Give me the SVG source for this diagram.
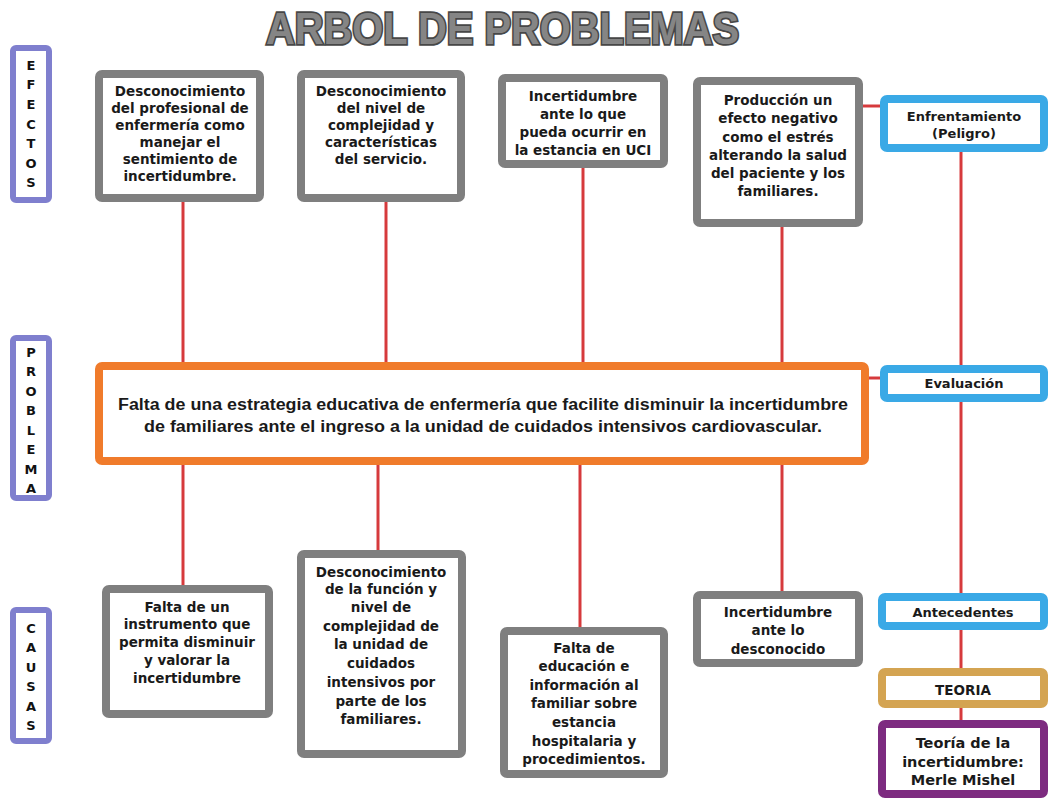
<svg xmlns="http://www.w3.org/2000/svg" width="1049" height="798" viewBox="0 0 1049 798">
<style>
.bg{fill:#ffffff}
.gray{fill:#ffffff;stroke:#7f7f7f;stroke-width:8}
.side{fill:#ffffff;stroke:#7f7fce;stroke-width:6}
.blue{fill:#ffffff;stroke:#3aa9e6;stroke-width:8}
.gold{fill:#ffffff;stroke:#d4a452;stroke-width:8}
.purple{fill:#ffffff;stroke:#7d2b80;stroke-width:8}
.orange{fill:#ffffff;stroke:#f07b2b;stroke-width:8}
.t{font-family:"DejaVu Sans",sans-serif;font-weight:bold;font-size:13.5px;fill:#1a1a1a;text-anchor:middle}
.s{font-family:"DejaVu Sans",sans-serif;font-weight:bold;font-size:13px;fill:#1a1a1a;text-anchor:middle}
.l{font-family:"DejaVu Sans",sans-serif;font-weight:bold;font-size:13px;fill:#111111;text-anchor:middle}
.p{font-family:"Liberation Sans",Arial,sans-serif;font-weight:bold;font-size:16px;fill:#1a1a1a;text-anchor:start}
.title{font-family:"Liberation Sans",Arial,sans-serif;font-weight:900;font-size:45px;fill:#858585;stroke:#474747;stroke-width:3.5;paint-order:stroke}
.c{stroke:#d63a3c;stroke-width:3;fill:none}
</style>
<rect class="bg" x="0" y="0" width="1049" height="798"/>
<text class="title" x="266" y="44" textLength="473" lengthAdjust="spacingAndGlyphs">ARBOL DE PROBLEMAS</text>

<g id="connectors">
<line class="c" x1="183" y1="200" x2="183" y2="363"/>
<line class="c" x1="386" y1="200" x2="386" y2="363"/>
<line class="c" x1="583" y1="167" x2="583" y2="363"/>
<line class="c" x1="782" y1="227" x2="782" y2="363"/>
<line class="c" x1="183" y1="463" x2="183" y2="586"/>
<line class="c" x1="378" y1="463" x2="378" y2="551"/>
<line class="c" x1="580" y1="463" x2="580" y2="627"/>
<line class="c" x1="782" y1="463" x2="782" y2="591"/>
<line class="c" x1="862" y1="106" x2="880" y2="106"/>
<line class="c" x1="868" y1="378" x2="880" y2="378"/>
<line class="c" x1="961" y1="152" x2="961" y2="365"/>
<line class="c" x1="961" y1="402" x2="961" y2="593"/>
<line class="c" x1="961" y1="630" x2="961" y2="668"/>
<line class="c" x1="961" y1="708" x2="961" y2="720"/>
</g>

<g id="label-efectos">
<rect class="side" x="13" y="48" width="36" height="152" rx="3"/>
<text class="l" x="31" y="70">E</text>
<text class="l" x="31" y="89">F</text>
<text class="l" x="31" y="109">E</text>
<text class="l" x="31" y="129">C</text>
<text class="l" x="31" y="148">T</text>
<text class="l" x="31" y="168">O</text>
<text class="l" x="31" y="187">S</text>
</g>
<g id="label-problema">
<rect class="side" x="13" y="338" width="36" height="160" rx="3"/>
<text class="l" x="31" y="357">P</text>
<text class="l" x="31" y="376">R</text>
<text class="l" x="31" y="396">O</text>
<text class="l" x="31" y="415">B</text>
<text class="l" x="31" y="435">L</text>
<text class="l" x="31" y="454">E</text>
<text class="l" x="31" y="474">M</text>
<text class="l" x="31" y="493">A</text>
</g>
<g id="label-causas">
<rect class="side" x="13" y="610" width="36" height="131" rx="3"/>
<text class="l" x="31" y="633">C</text>
<text class="l" x="31" y="652">A</text>
<text class="l" x="31" y="672">U</text>
<text class="l" x="31" y="691">S</text>
<text class="l" x="31" y="711">A</text>
<text class="l" x="31" y="730">S</text>
</g>

<g id="efecto1">
<rect class="gray" x="99" y="74" width="161" height="124" rx="3"/>
<text class="t" x="180" y="96">Desconocimiento</text>
<text class="t" x="180" y="113">del profesional de</text>
<text class="t" x="180" y="130">enfermería como</text>
<text class="t" x="180" y="147">manejar el</text>
<text class="t" x="180" y="164">sentimiento de</text>
<text class="t" x="180" y="181">incertidumbre.</text>
</g>
<g id="efecto2">
<rect class="gray" x="301" y="74" width="160" height="124" rx="3"/>
<text class="t" x="381" y="96">Desconocimiento</text>
<text class="t" x="381" y="113">del nivel de</text>
<text class="t" x="381" y="130">complejidad y</text>
<text class="t" x="381" y="147">características</text>
<text class="t" x="381" y="164">del servicio.</text>
</g>
<g id="efecto3">
<rect class="gray" x="502" y="78" width="162" height="86" rx="3"/>
<text class="t" x="583" y="101">Incertidumbre</text>
<text class="t" x="583" y="119">ante lo que</text>
<text class="t" x="583" y="137">pueda ocurrir en</text>
<text class="t" x="583" y="155">la estancia en UCI</text>
</g>
<g id="efecto4">
<rect class="gray" x="697" y="81" width="162" height="142" rx="3"/>
<text class="t" x="778" y="105">Producción un</text>
<text class="t" x="778" y="123">efecto negativo</text>
<text class="t" x="778" y="142">como el estrés</text>
<text class="t" x="778" y="160">alterando la salud</text>
<text class="t" x="778" y="178">del paciente y los</text>
<text class="t" x="778" y="196">familiares.</text>
</g>

<g id="problema">
<rect class="orange" x="99" y="366" width="766" height="95" rx="3"/>
<text class="p" x="118" y="410" textLength="730" lengthAdjust="spacingAndGlyphs">Falta de una estrategia educativa de enfermería que facilite disminuir la incertidumbre</text>
<text class="p" x="144" y="432" textLength="678" lengthAdjust="spacingAndGlyphs">de familiares ante el ingreso a la unidad de cuidados intensivos cardiovascular.</text>
</g>

<g id="causa1">
<rect class="gray" x="106" y="589" width="163" height="125" rx="3"/>
<text class="t" x="187" y="612">Falta de un</text>
<text class="t" x="187" y="629">instrumento que</text>
<text class="t" x="187" y="647">permita disminuir</text>
<text class="t" x="187" y="665">y valorar la</text>
<text class="t" x="187" y="683">incertidumbre</text>
</g>
<g id="causa2">
<rect class="gray" x="301" y="554" width="161" height="200" rx="3"/>
<text class="t" x="381" y="577">Desconocimiento</text>
<text class="t" x="381" y="594">de la función y</text>
<text class="t" x="381" y="612">nivel de</text>
<text class="t" x="381" y="631">complejidad de</text>
<text class="t" x="381" y="649">la unidad de</text>
<text class="t" x="381" y="668">cuidados</text>
<text class="t" x="381" y="687">intensivos por</text>
<text class="t" x="381" y="706">parte de los</text>
<text class="t" x="381" y="724">familiares.</text>
</g>
<g id="causa3">
<rect class="gray" x="504" y="631" width="160" height="143" rx="3"/>
<text class="t" x="584" y="653">Falta de</text>
<text class="t" x="584" y="671">educación e</text>
<text class="t" x="584" y="690">información al</text>
<text class="t" x="584" y="708">familiar sobre</text>
<text class="t" x="584" y="727">estancia</text>
<text class="t" x="584" y="746">hospitalaria y</text>
<text class="t" x="584" y="764">procedimientos.</text>
</g>
<g id="causa4">
<rect class="gray" x="697" y="595" width="162" height="68" rx="3"/>
<text class="t" x="778" y="617">Incertidumbre</text>
<text class="t" x="778" y="635">ante lo</text>
<text class="t" x="778" y="654">desconocido</text>
</g>

<g id="enfrentamiento">
<rect class="blue" x="884" y="99" width="160" height="49" rx="3"/>
<text class="s" x="964" y="121">Enfrentamiento</text>
<text class="s" x="964" y="138">(Peligro)</text>
</g>
<g id="evaluacion">
<rect class="blue" x="884" y="369" width="160" height="29" rx="3"/>
<text class="s" x="964" y="388">Evaluación</text>
</g>
<g id="antecedentes">
<rect class="blue" x="882" y="597" width="162" height="29" rx="3"/>
<text class="s" x="963" y="617">Antecedentes</text>
</g>
<g id="teoria-label">
<rect class="gold" x="882" y="672" width="162" height="32" rx="3"/>
<text class="t" x="963" y="695">TEORIA</text>
</g>
<g id="teoria">
<rect class="purple" x="882" y="724" width="162" height="70" rx="3"/>
<text class="t" x="963" y="748" style="font-size:14.5px">Teoría de la</text>
<text class="t" x="963" y="767" style="font-size:14.5px">incertidumbre:</text>
<text class="t" x="963" y="785" style="font-size:14.5px">Merle Mishel</text>
</g>
</svg>
